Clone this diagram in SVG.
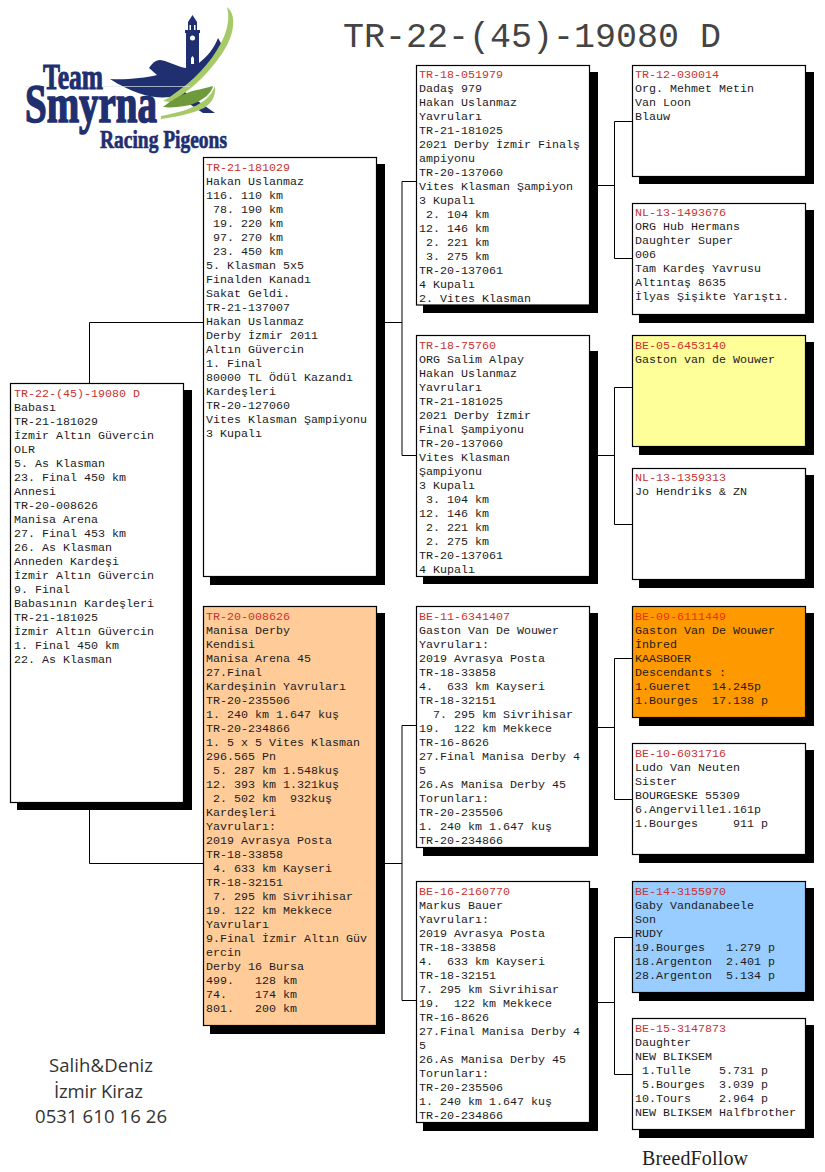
<svg xmlns="http://www.w3.org/2000/svg" width="825" height="1172" viewBox="0 0 825 1172">
<style>
text{font-family:"Liberation Mono","Courier New",monospace;font-size:11.67px;fill:#1c1c1c;white-space:pre}
.id{fill:#c8322f}
.box{stroke:#000;stroke-width:1.2;fill:#fff}
.sh{fill:#000}
.c{fill:none;stroke:#000;stroke-width:1}
text.logo{font-family:"Liberation Serif",serif;font-weight:bold;fill:#1f2f6f;stroke:#1f2f6f;stroke-width:1}
text.foot{font-family:"Open Sans",sans-serif;font-size:18.5px;fill:#333}
</style>
<rect width="825" height="1172" fill="#fff"/>
<g id="logo">
<path fill="#1f2f6f" d="M110 79C125 80 145 78 157 75L149 68C152 64 155 60 160 60C168 61 178 67 186 68V33H185V30H188V22L192.500 15L197 22V30H200V33H199V63C208 56 214 48 218 38L222 45C222 52 216 60 208 67L190 82L182 90L215 113H203L188 103L170 97C155 99 135 95 110 79Z"/>
<path fill="#fff" d="M190 38a2.500 2.500 0 1 0 5 0a2.500 2.500 0 1 0-5 0zM191 58l1.500-2l1.500 2v6h-3zM189.500 25h1.500v5h-1.500zM194 25h1.500v5h-1.500z"/>
<path fill="#a6ca68" d="M227 7C232 11 234 18 233 26C232 36 228 44 223 52C210 72 190 92 170 102L163 101C185 88 205 70 217 50C225 37 231 22 227 7Z"/>
<path fill="#6f9a3c" d="M163 107C170 101 185 92 197 90C203 89 208 87 213 86C212 92 205 100 190 105C180 107 170 108 163 107Z"/>
<path fill="#a6ca68" d="M161 116C178 113 195 108 205 100C210 96 213 91 215 86C216 96 212 103 204 108C192 114 175 117 161 119Z"/>
<path fill="none" stroke="#dfe3ee" stroke-width=".7" d="M25 86.500H190"/>
<text class="logo" x="43" y="88.500" textLength="60" lengthAdjust="spacingAndGlyphs" style="font-size:35px">Team</text>
<text class="logo" x="25" y="122" textLength="132" lengthAdjust="spacingAndGlyphs" style="font-size:54px;stroke-width:1.6">Smyrna</text>
<text class="logo" x="100" y="148" textLength="127" lengthAdjust="spacingAndGlyphs" style="font-size:26px;stroke-width:.7">Racing Pigeons</text>
</g>
<text id="title" x="343" y="46.500" style="font-size:35px;fill:#444">TR-22-(45)-19080 D</text>
<g id="connectors">
<path class="c" d="M89.500 383V322.500H203.500M89.500 802V863.500H203.500"/>
<path class="c" d="M376 322.500H402M402 181.500V455.500M402 181.500H417M402 455.500H417"/>
<path class="c" d="M376 863.500H402M402 725.500V1000.500M402 725.500H417M402 1000.500H417"/>
<path class="c" d="M590 185.500H614.500M614.500 121.500V258.500M614.500 121.500H633M614.500 258.500H633"/>
<path class="c" d="M590 455.500H614.500M614.500 387.500V524.500M614.500 387.500H633M614.500 524.500H633"/>
<path class="c" d="M590 727.500H614.500M614.500 658.500V799.500M614.500 658.500H633M614.500 799.500H633"/>
<path class="c" d="M590 1002.500H614.500M614.500 937.500V1074.500M614.500 937.500H633M614.500 1074.500H633"/>
</g>
<g id="n-root">
<rect class="sh" x="17" y="390" width="175" height="420"/><rect class="box" x="10.500" y="383.500" width="173" height="419"/>
<text x="14" y="397"><tspan class="id">TR-22-(45)-19080 D</tspan><tspan x="14" dy="14">Babası</tspan><tspan x="14" dy="14">TR-21-181029</tspan><tspan x="14" dy="14">İzmir Altın Güvercin</tspan><tspan x="14" dy="14">OLR</tspan><tspan x="14" dy="14">5. As Klasman</tspan><tspan x="14" dy="14">23. Final 450 km</tspan><tspan x="14" dy="14">Annesi</tspan><tspan x="14" dy="14">TR-20-008626</tspan><tspan x="14" dy="14">Manisa Arena</tspan><tspan x="14" dy="14">27. Final 453 km</tspan><tspan x="14" dy="14">26. As Klasman</tspan><tspan x="14" dy="14">Anneden Kardeşi</tspan><tspan x="14" dy="14">İzmir Altın Güvercin</tspan><tspan x="14" dy="14">9. Final</tspan><tspan x="14" dy="14">Babasının Kardeşleri</tspan><tspan x="14" dy="14">TR-21-181025</tspan><tspan x="14" dy="14">İzmir Altın Güvercin</tspan><tspan x="14" dy="14">1. Final 450 km</tspan><tspan x="14" dy="14">22. As Klasman</tspan></text>
</g>
<g id="n-sire">
<rect class="sh" x="210" y="164" width="175" height="421"/><rect class="box" x="203.500" y="157.500" width="173" height="419"/>
<text x="206" y="171"><tspan class="id">TR-21-181029</tspan><tspan x="206" dy="14">Hakan Uslanmaz</tspan><tspan x="206" dy="14">116. 110 km</tspan><tspan x="206" dy="14"> 78. 190 km</tspan><tspan x="206" dy="14"> 19. 220 km</tspan><tspan x="206" dy="14"> 97. 270 km</tspan><tspan x="206" dy="14"> 23. 450 km</tspan><tspan x="206" dy="14">5. Klasman 5x5</tspan><tspan x="206" dy="14">Finalden Kanadı</tspan><tspan x="206" dy="14">Sakat Geldi.</tspan><tspan x="206" dy="14">TR-21-137007</tspan><tspan x="206" dy="14">Hakan Uslanmaz</tspan><tspan x="206" dy="14">Derby İzmir 2011</tspan><tspan x="206" dy="14">Altın Güvercin</tspan><tspan x="206" dy="14">1. Final</tspan><tspan x="206" dy="14">80000 TL Ödül Kazandı</tspan><tspan x="206" dy="14">Kardeşleri</tspan><tspan x="206" dy="14">TR-20-127060</tspan><tspan x="206" dy="14">Vites Klasman Şampiyonu</tspan><tspan x="206" dy="14">3 Kupalı</tspan></text>
</g>
<g id="n-dam">
<rect class="sh" x="210" y="613" width="175" height="421"/><rect class="box" style="fill:#ffcc99" x="203.500" y="606.500" width="173" height="419"/>
<text x="206" y="620"><tspan class="id">TR-20-008626</tspan><tspan x="206" dy="14">Manisa Derby</tspan><tspan x="206" dy="14">Kendisi</tspan><tspan x="206" dy="14">Manisa Arena 45</tspan><tspan x="206" dy="14">27.Final</tspan><tspan x="206" dy="14">Kardeşinin Yavruları</tspan><tspan x="206" dy="14">TR-20-235506</tspan><tspan x="206" dy="14">1. 240 km 1.647 kuş</tspan><tspan x="206" dy="14">TR-20-234866</tspan><tspan x="206" dy="14">1. 5 x 5 Vites Klasman</tspan><tspan x="206" dy="14">296.565 Pn</tspan><tspan x="206" dy="14"> 5. 287 km 1.548kuş</tspan><tspan x="206" dy="14">12. 393 km 1.321kuş</tspan><tspan x="206" dy="14"> 2. 502 km  932kuş</tspan><tspan x="206" dy="14">Kardeşleri</tspan><tspan x="206" dy="14">Yavruları:</tspan><tspan x="206" dy="14">2019 Avrasya Posta</tspan><tspan x="206" dy="14">TR-18-33858</tspan><tspan x="206" dy="14"> 4. 633 km Kayseri</tspan><tspan x="206" dy="14">TR-18-32151</tspan><tspan x="206" dy="14"> 7. 295 km Sivrihisar</tspan><tspan x="206" dy="14">19. 122 km Mekkece</tspan><tspan x="206" dy="14">Yavruları</tspan><tspan x="206" dy="14">9.Final İzmir Altın Güv</tspan><tspan x="206" dy="14">ercin</tspan><tspan x="206" dy="14">Derby 16 Bursa</tspan><tspan x="206" dy="14">499.   128 km</tspan><tspan x="206" dy="14">74.    174 km</tspan><tspan x="206" dy="14">801.   200 km</tspan></text>
</g>
<g id="n-ss">
<rect class="sh" x="423" y="72" width="175" height="241"/><rect class="box" x="416.500" y="65.500" width="173" height="239.500"/>
<text x="419" y="78"><tspan class="id">TR-18-051979</tspan><tspan x="419" dy="14">Dadaş 979</tspan><tspan x="419" dy="14">Hakan Uslanmaz</tspan><tspan x="419" dy="14">Yavruları</tspan><tspan x="419" dy="14">TR-21-181025</tspan><tspan x="419" dy="14">2021 Derby İzmir Finalş</tspan><tspan x="419" dy="14">ampiyonu</tspan><tspan x="419" dy="14">TR-20-137060</tspan><tspan x="419" dy="14">Vites Klasman Şampiyon</tspan><tspan x="419" dy="14">3 Kupalı</tspan><tspan x="419" dy="14"> 2. 104 km</tspan><tspan x="419" dy="14">12. 146 km</tspan><tspan x="419" dy="14"> 2. 221 km</tspan><tspan x="419" dy="14"> 3. 275 km</tspan><tspan x="419" dy="14">TR-20-137061</tspan><tspan x="419" dy="14">4 Kupalı</tspan><tspan x="419" dy="14">2. Vites Klasman</tspan></text>
</g>
<g id="n-sd">
<rect class="sh" x="423" y="351" width="175" height="233"/><rect class="box" x="416.500" y="335.500" width="173" height="241"/>
<text x="419" y="349"><tspan class="id">TR-18-75760</tspan><tspan x="419" dy="14">ORG Salim Alpay</tspan><tspan x="419" dy="14">Hakan Uslanmaz</tspan><tspan x="419" dy="14">Yavruları</tspan><tspan x="419" dy="14">TR-21-181025</tspan><tspan x="419" dy="14">2021 Derby İzmir</tspan><tspan x="419" dy="14">Final Şampiyonu</tspan><tspan x="419" dy="14">TR-20-137060</tspan><tspan x="419" dy="14">Vites Klasman</tspan><tspan x="419" dy="14">Şampiyonu</tspan><tspan x="419" dy="14">3 Kupalı</tspan><tspan x="419" dy="14"> 3. 104 km</tspan><tspan x="419" dy="14">12. 146 km</tspan><tspan x="419" dy="14"> 2. 221 km</tspan><tspan x="419" dy="14"> 2. 275 km</tspan><tspan x="419" dy="14">TR-20-137061</tspan><tspan x="419" dy="14">4 Kupalı</tspan></text>
</g>
<g id="n-ds">
<rect class="sh" x="423" y="613" width="175" height="243"/><rect class="box" x="416.500" y="606.500" width="173" height="241"/>
<text x="419" y="620"><tspan class="id">BE-11-6341407</tspan><tspan x="419" dy="14">Gaston Van De Wouwer</tspan><tspan x="419" dy="14">Yavruları:</tspan><tspan x="419" dy="14">2019 Avrasya Posta</tspan><tspan x="419" dy="14">TR-18-33858</tspan><tspan x="419" dy="14">4.  633 km Kayseri</tspan><tspan x="419" dy="14">TR-18-32151</tspan><tspan x="419" dy="14">  7. 295 km Sivrihisar</tspan><tspan x="419" dy="14">19.  122 km Mekkece</tspan><tspan x="419" dy="14">TR-16-8626</tspan><tspan x="419" dy="14">27.Final Manisa Derby 4</tspan><tspan x="419" dy="14">5</tspan><tspan x="419" dy="14">26.As Manisa Derby 45</tspan><tspan x="419" dy="14">Torunları:</tspan><tspan x="419" dy="14">TR-20-235506</tspan><tspan x="419" dy="14">1. 240 km 1.647 kuş</tspan><tspan x="419" dy="14">TR-20-234866</tspan></text>
</g>
<g id="n-dd">
<rect class="sh" x="423" y="888" width="175" height="243"/><rect class="box" x="416.500" y="881.500" width="173" height="241"/>
<text x="419" y="895"><tspan class="id">BE-16-2160770</tspan><tspan x="419" dy="14">Markus Bauer</tspan><tspan x="419" dy="14">Yavruları:</tspan><tspan x="419" dy="14">2019 Avrasya Posta</tspan><tspan x="419" dy="14">TR-18-33858</tspan><tspan x="419" dy="14">4.  633 km Kayseri</tspan><tspan x="419" dy="14">TR-18-32151</tspan><tspan x="419" dy="14">7. 295 km Sivrihisar</tspan><tspan x="419" dy="14">19.  122 km Mekkece</tspan><tspan x="419" dy="14">TR-16-8626</tspan><tspan x="419" dy="14">27.Final Manisa Derby 4</tspan><tspan x="419" dy="14">5</tspan><tspan x="419" dy="14">26.As Manisa Derby 45</tspan><tspan x="419" dy="14">Torunları:</tspan><tspan x="419" dy="14">TR-20-235506</tspan><tspan x="419" dy="14">1. 240 km 1.647 kuş</tspan><tspan x="419" dy="14">TR-20-234866</tspan></text>
</g>
<g id="n-g1">
<rect class="sh" x="639" y="72" width="175" height="112"/><rect class="box" x="632.500" y="65.500" width="173" height="111"/>
<text x="635" y="78"><tspan class="id">TR-12-030014</tspan><tspan x="635" dy="14">Org. Mehmet Metin</tspan><tspan x="635" dy="14">Van Loon</tspan><tspan x="635" dy="14">Blauw</tspan></text>
</g>
<g id="n-g2">
<rect class="sh" x="639" y="210" width="175" height="113"/><rect class="box" x="632.500" y="203.500" width="173" height="111"/>
<text x="635" y="216"><tspan class="id">NL-13-1493676</tspan><tspan x="635" dy="14">ORG Hub Hermans</tspan><tspan x="635" dy="14">Daughter Super</tspan><tspan x="635" dy="14">006</tspan><tspan x="635" dy="14">Tam Kardeş Yavrusu</tspan><tspan x="635" dy="14">Altıntaş 8635</tspan><tspan x="635" dy="14">İlyas Şişikte Yarıştı.</tspan></text>
</g>
<g id="n-g3">
<rect class="sh" x="639" y="342" width="175" height="113"/><rect class="box" style="fill:#ffff99" x="632.500" y="335.500" width="173" height="111"/>
<text x="635" y="349"><tspan class="id">BE-05-6453140</tspan><tspan x="635" dy="14">Gaston van de Wouwer</tspan></text>
</g>
<g id="n-g4">
<rect class="sh" x="639" y="475" width="175" height="113"/><rect class="box" x="632.500" y="468.500" width="173" height="111"/>
<text x="635" y="481"><tspan class="id">NL-13-1359313</tspan><tspan x="635" dy="14">Jo Hendriks &amp; ZN</tspan></text>
</g>
<g id="n-g5">
<rect class="sh" x="639" y="613" width="175" height="113"/><rect class="box" style="fill:#ff9900" x="632.500" y="606.500" width="173" height="111"/>
<text x="635" y="620"><tspan style="fill:#e8321a">BE-09-6111449</tspan><tspan x="635" dy="14">Gaston Van De Wouwer</tspan><tspan x="635" dy="14">İnbred</tspan><tspan x="635" dy="14">KAASBOER</tspan><tspan x="635" dy="14">Descendants :</tspan><tspan x="635" dy="14">1.Gueret   14.245p</tspan><tspan x="635" dy="14">1.Bourges  17.138 p</tspan></text>
</g>
<g id="n-g6">
<rect class="sh" x="639" y="750" width="175" height="113"/><rect class="box" x="632.500" y="743.500" width="173" height="111"/>
<text x="635" y="757"><tspan class="id">BE-10-6031716</tspan><tspan x="635" dy="14">Ludo Van Neuten</tspan><tspan x="635" dy="14">Sister</tspan><tspan x="635" dy="14">BOURGESKE 55309</tspan><tspan x="635" dy="14">6.Angerville1.161p</tspan><tspan x="635" dy="14">1.Bourges     911 p</tspan></text>
</g>
<g id="n-g7">
<rect class="sh" x="639" y="888" width="175" height="113"/><rect class="box" style="fill:#99ccff" x="632.500" y="881.500" width="173" height="111"/>
<text x="635" y="895"><tspan class="id">BE-14-3155970</tspan><tspan x="635" dy="14">Gaby Vandanabeele</tspan><tspan x="635" dy="14">Son</tspan><tspan x="635" dy="14">RUDY</tspan><tspan x="635" dy="14">19.Bourges   1.279 p</tspan><tspan x="635" dy="14">18.Argenton  2.401 p</tspan><tspan x="635" dy="14">28.Argenton  5.134 p</tspan></text>
</g>
<g id="n-g8">
<rect class="sh" x="639" y="1025" width="175" height="113"/><rect class="box" x="632.500" y="1018.500" width="173" height="111"/>
<text x="635" y="1032"><tspan class="id">BE-15-3147873</tspan><tspan x="635" dy="14">Daughter</tspan><tspan x="635" dy="14">NEW BLIKSEM</tspan><tspan x="635" dy="14"> 1.Tulle    5.731 p</tspan><tspan x="635" dy="14"> 5.Bourges  3.039 p</tspan><tspan x="635" dy="14">10.Tours    2.964 p</tspan><tspan x="635" dy="14">NEW BLIKSEM Halfbrother</tspan></text>
</g>
<g id="footer">
<text class="foot" x="49" y="1072" textLength="104">Salih&amp;Deniz</text>
<text class="foot" x="54" y="1098" textLength="89">İzmir Kiraz</text>
<text class="foot" x="35" y="1123" textLength="132">0531 610 16 26</text>
<text x="642" y="1165" textLength="106" style="font-family:'Liberation Serif',serif;font-size:20px;fill:#222">BreedFollow</text>
</g>
</svg>
